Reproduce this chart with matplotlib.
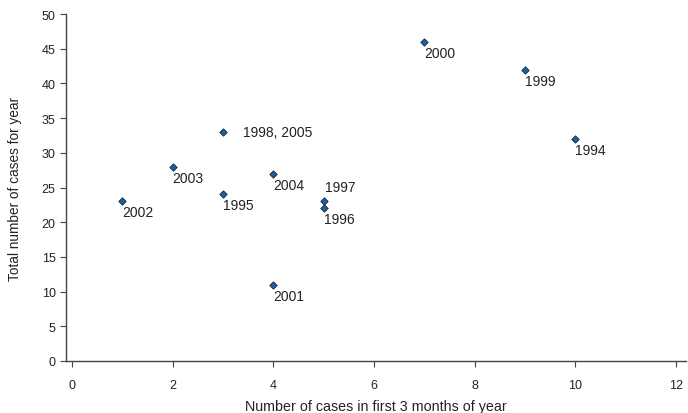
import matplotlib
matplotlib.use("Agg")
import matplotlib.pyplot as plt

plt.rcParams["font.family"] = ["Liberation Sans", "DejaVu Sans"]

# cases in first 3 months vs total cases, one point per year label
first_quarter = [1, 2, 3, 3, 4, 4, 5, 5, 7, 9, 10]
year_total = [23, 28, 33, 24, 27, 11, 23, 22, 46, 42, 32]
year_labels = ["2002", "2003", "1998, 2005", "1995", "2004", "2001",
               "1997", "1996", "2000", "1999", "1994"]

# label placement: offset in pixels (dx, dy) and vertical alignment
label_pos = {
    "1998, 2005": ((20, 0), "center"),
    "1997": ((1, 7), "bottom"),
}
default_pos = ((0, -4), "top")

fig = plt.figure(figsize=(6.88, 4.14), dpi=100)
ax = fig.add_axes([66 / 688, 1 - 362 / 414, (686 - 66) / 688, (362 - 15) / 414])

ax.scatter(first_quarter, year_total, marker="D", s=14, color="#1f5f9e",
           edgecolors="#10233a", linewidths=0.6, zorder=3)

px = 0.72  # points per pixel at 100 dpi
for x, y, lab in zip(first_quarter, year_total, year_labels):
    (dx, dy), va = label_pos.get(lab, default_pos)
    ax.annotate(lab, (x, y), xytext=(dx * px, dy * px), textcoords="offset points",
                ha="left", va=va, fontsize=10, color="#222222")

ax.set_xlim(-0.12, 12.2)
ax.set_ylim(0, 50)
ax.set_xticks(range(0, 13, 2))
ax.set_yticks(range(0, 51, 5))
for s in ("top", "right"):
    ax.spines[s].set_visible(False)
for s in ("left", "bottom"):
    ax.spines[s].set_color("#444444")
    ax.spines[s].set_linewidth(1.0)
ax.tick_params(axis="both", direction="out", length=4, width=0.8,
               colors="#444444", labelcolor="#222222", labelsize=9)
ax.tick_params(axis="x", pad=9)

ax.set_xlabel("Number of cases in first 3 months of year", fontsize=10.3,
              color="#222222")
ax.xaxis.set_label_coords(0.5, -(411 - 362) / 347, transform=ax.transAxes)
ax.xaxis.label.set_va("baseline")
ax.set_ylabel("Total number of cases for year", fontsize=9.8, color="#222222")
ax.yaxis.set_label_coords(-(66 - 15) / 620, 0.5, transform=ax.transAxes)
ax.yaxis.label.set_va("center")

fig.savefig("out.png", dpi=100)
